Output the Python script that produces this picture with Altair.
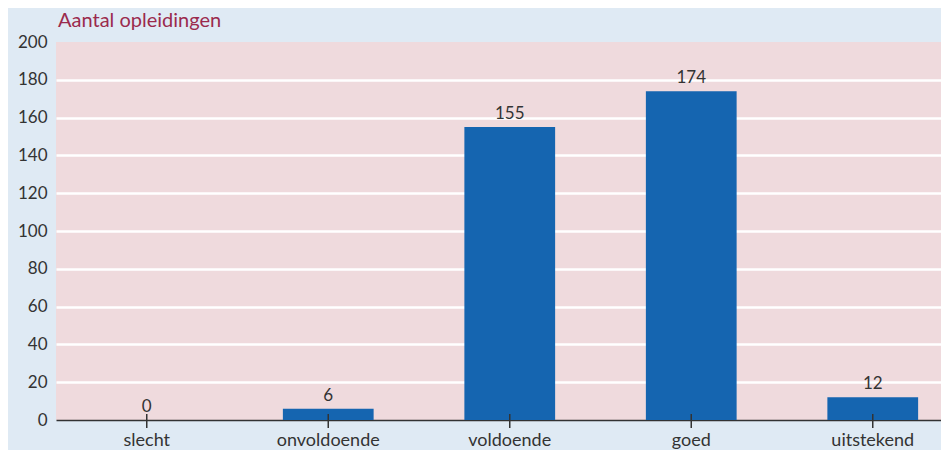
import altair as alt
import pandas as pd

categories = ["slecht", "onvoldoende", "voldoende", "goed", "uitstekend"]
values = [0, 6, 155, 174, 12]
y_ticks = [0, 20, 40, 60, 80, 100, 120, 140, 160, 180, 200]
title_text = "Aantal opleidingen"

df = pd.DataFrame({"categorie": categories, "aantal": values})

W = 885
H = 378
STEP = 181.5
FONT = "Lato"

xscale = alt.Scale(domain=categories, range=[0, STEP * 5], paddingInner=0.5, paddingOuter=0.25)

x_enc = alt.X(
    "categorie:N",
    sort=categories,
    scale=xscale,
    axis=alt.Axis(
        title=None, labelAngle=0, labelFontSize=18, labelColor="#333333",
        labelFont=FONT, labelPadding=11, ticks=False, tickSize=0,
        domainColor="#333333", domainWidth=1.5,
    ),
)

y_enc = alt.Y(
    "aantal:Q",
    scale=alt.Scale(domain=[0, 200], nice=False),
    axis=alt.Axis(
        title=None, values=y_ticks, tickCount=11, labelFontSize=17, labelColor="#333333",
        labelFont=FONT, labelPadding=9, ticks=False, domain=False,
        labelOverlap=False,
        grid=True,
        gridColor=alt.condition("datum.value === 0 || datum.value === 200",
                                alt.value("transparent"), alt.value("#ffffff")),
        gridWidth=2.5,
    ),
)

base = alt.Chart(df)

bars = base.mark_bar(color="#1565b0").encode(x=x_enc, y=y_enc)

labels = base.mark_text(
    dy=-4, baseline="bottom", fontSize=17, color="#333333", font=FONT
).encode(x=x_enc, y=y_enc, text="aantal:Q")

ticks = base.mark_rule(color="#333333", strokeWidth=1.5).encode(
    x=x_enc,
    y=alt.value(H - 6),
    y2=alt.value(H + 8),
)

chart = (
    alt.layer(bars, labels, ticks)
    .properties(
        width=W,
        height=H,
        title=alt.TitleParams(
            title_text, anchor="start", frame="group", fontSize=20,
            color="#9b2a4d", font=FONT, fontWeight="normal", offset=2, dx=2,
        ),
        background="#dfeaf4",
        padding={"left": 48, "top": 34, "right": 0, "bottom": 30},
        autosize=alt.AutoSizeParams(type="none"),
    )
    .configure_view(fill="#efdadd", stroke=None)
)

chart.save("out.html", embed_options={"renderer": "svg", "actions": False})
